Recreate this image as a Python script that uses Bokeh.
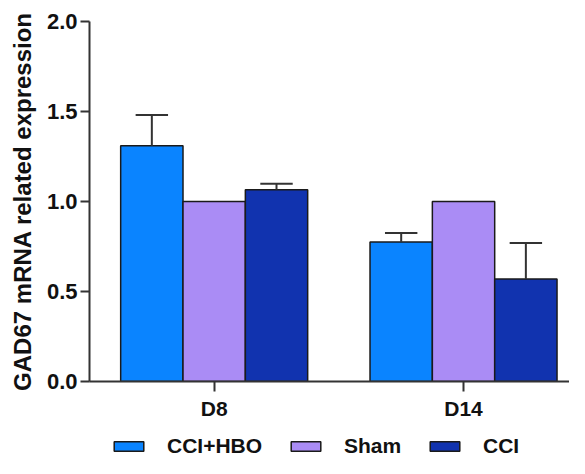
from bokeh.plotting import figure
from bokeh.layouts import column
from bokeh.models import Range1d, FixedTicker, Legend, LegendItem, PrintfTickFormatter
from bokeh.embed import file_html
from bokeh.resources import INLINE

# ---- data ----
groups = ["D8", "D14"]
series = ["CCI+HBO", "Sham", "CCI"]
cci_hbo = [1.31, 0.775]
sham = [1.0, 1.0]
cci = [1.065, 0.57]
cci_hbo_err = [0.17, 0.05]
sham_err = [0.0, 0.0]
cci_err = [0.033, 0.20]
y_ticks = [0.0, 0.5, 1.0, 1.5, 2.0]
y_label = "GAD67 mRNA related expression"

colors = ["#0A84FF", "#AA8CF5", "#1133AF"]
FONT = "Liberation Sans"
INK = "#111111"
AX = "#333333"

values = [cci_hbo, sham, cci]
errors = [cci_hbo_err, sham_err, cci_err]
bar_w = 0.25
offsets = [-bar_w, 0.0, bar_w]
centers = [i + 0.5 for i in range(len(groups))]

W = 569
p = figure(width=W, height=424, output_backend="svg", toolbar_location=None,
           x_range=Range1d(0, 1.925), y_range=Range1d(0, 2.0),
           min_border_left=89, min_border_top=21, min_border_right=0, min_border_bottom=43)
p.xgrid.visible = False
p.ygrid.visible = False
p.outline_line_color = None

for k, name in enumerate(series):
    xs = [c + offsets[k] for c in centers]
    p.vbar(x=xs, top=values[k], width=bar_w, bottom=0,
           fill_color=colors[k], line_color="#1a1a1a", line_width=1.5)
    # error bars (upper only)
    ex = [x for x, e in zip(xs, errors[k]) if e > 0]
    ey0 = [v for v, e in zip(values[k], errors[k]) if e > 0]
    ey1 = [v + e for v, e in zip(values[k], errors[k]) if e > 0]
    if ex:
        p.segment(x0=ex, y0=ey0, x1=ex, y1=ey1, line_color=AX, line_width=2)
        cap = bar_w * 0.26
        p.segment(x0=[x - cap for x in ex], y0=ey1, x1=[x + cap for x in ex], y1=ey1,
                  line_color=AX, line_width=2)

# y axis
ya = p.yaxis[0]
ya.ticker = FixedTicker(ticks=y_ticks)
ya.formatter = PrintfTickFormatter(format="%.1f")
ya.minor_tick_line_color = None
ya.major_tick_in = 0
ya.major_tick_out = 9
ya.major_tick_line_width = 2
ya.major_tick_line_color = AX
ya.axis_line_width = 2
ya.axis_line_color = AX
ya.major_label_text_font = FONT
ya.major_label_text_font_style = "bold"
ya.major_label_text_font_size = "22px"
ya.major_label_text_color = INK
ya.major_label_standoff = 3
ya.axis_label = y_label
ya.axis_label_text_font = FONT
ya.axis_label_text_font_style = "bold"
ya.axis_label_text_font_size = "24px"
ya.axis_label_text_color = INK
ya.axis_label_standoff = 8

# x axis
xa = p.xaxis[0]
xa.ticker = FixedTicker(ticks=centers)
xa.major_label_overrides = {c: g for c, g in zip(centers, groups)}
xa.minor_tick_line_color = None
xa.major_tick_in = 0
xa.major_tick_out = 10
xa.major_tick_line_width = 2
xa.major_tick_line_color = AX
xa.axis_line_width = 2
xa.axis_line_color = AX
xa.major_label_text_font = FONT
xa.major_label_text_font_style = "bold"
xa.major_label_text_font_size = "21px"
xa.major_label_text_color = INK
xa.major_label_standoff = 5

# legend strip below the chart (its frame is aligned with the chart frame)
lg = figure(width=W, height=34, output_backend="svg", toolbar_location=None,
            x_axis_location=None, y_axis_location=None,
            x_range=Range1d(0, 1), y_range=Range1d(0, 1),
            min_border_left=0, min_border_right=0, min_border_top=0, min_border_bottom=0)
lg.xgrid.visible = False
lg.ygrid.visible = False
lg.outline_line_color = None
legend_x = [21, 198, 337]
nan = float("nan")
for k, name in enumerate(series):
    # proxy glyph without drawable data, used only for the legend swatch
    r = lg.vbar(x=[nan], top=[nan], bottom=[nan], width=0.1, fill_color=colors[k],
                line_color="#1a1a1a", line_width=1.5)
    leg = Legend(items=[LegendItem(label=name, renderers=[r])], orientation="horizontal",
                 location=(legend_x[k], 0),
                 glyph_width=37, glyph_height=12, label_standoff=20, spacing=0,
                 padding=0, margin=0, border_line_color=None, background_fill_alpha=0,
                 label_text_font=FONT, label_text_font_style="bold",
                 label_text_font_size="21px", label_text_color=INK)
    lg.add_layout(leg, "center")

layout = column(p, lg, spacing=0)
open("out.html", "w").write(file_html(layout, INLINE))
